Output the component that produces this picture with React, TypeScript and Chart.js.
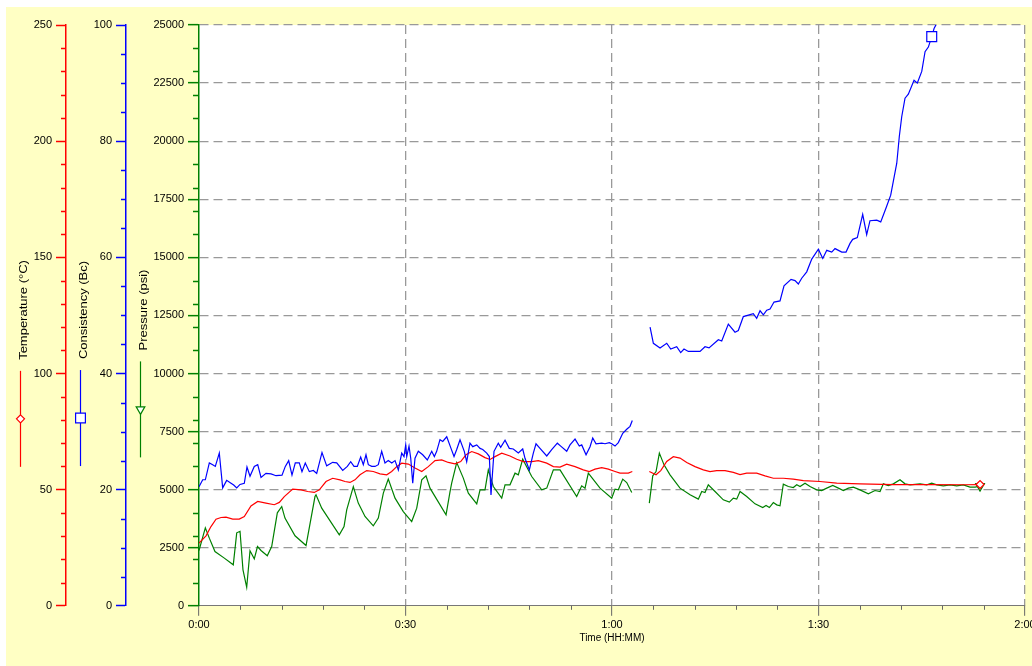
import React, { useEffect, useRef } from 'react';
import { Chart, registerables } from 'chart.js';

Chart.register(...registerables);

// ---------------- DATA ----------------
// Time in minutes (null value = gap in the record)
const temperatureTime = [
  0, 1.02, 1.74, 2.47, 3.2, 3.92, 4.9, 5.85, 6.58, 7.55, 8.53, 9.73, 10.94, 11.67, 12.39, 13.61, 14.82, 15.79,
  16.75, 17.48, 18.45, 19.42, 20.49, 21.21, 21.94, 22.66, 23.39, 24.36, 25.32, 26.3, 27.27, 27.99, 28.72, 29.45,
  30.41, 31.38, 32.36, 33.31, 34.29, 35.26, 36.22, 37.19, 38.02, 38.79, 39.62, 40.58, 41.55, 42.28, 43.0, 43.98,
  45.18, 46.16, 47.12, 48.34, 49.3, 50.52, 51.48, 52.45, 53.42, 54.63, 55.83, 56.7, 57.53, 58.51, 59.47, 60.44,
  61.17, 62.37, 62.95, 64.2,
  65.42, 66.4, 67.08, 67.95, 68.91, 69.88, 70.86, 72.06, 73.27, 74.24, 75.21, 76.42, 77.63, 78.6, 79.57, 81.02,
  82.23, 83.44, 84.89, 86.34, 87.8, 90.22, 92.65, 96.03, 100.87, 105.72, 111.04, 113.47,
];
const temperatureC = [
  27.0, 30.1, 34.1, 37.3, 38.0, 38.2, 37.3, 37.3, 38.4, 43.0, 44.9, 44.2, 43.5, 44.5, 47.0, 50.2, 49.9, 49.2,
  48.8, 49.9, 53.5, 54.9, 54.2, 53.5, 53.1, 54.2, 56.4, 58.2, 57.8, 56.8, 56.4, 57.8, 59.9, 61.4,
  61.0, 59.3, 57.8, 59.9, 62.5, 62.8, 61.7, 61.1, 62.1, 65.0, 66.4, 65.4, 63.8, 63.0, 64.2, 65.7,
  64.5, 63.1, 62.1, 62.1, 62.5, 61.4, 59.9, 59.7, 61.0, 59.9, 58.5, 57.8, 58.8, 59.5, 58.8, 57.8,
  57.1, 57.1, 57.8, null,
  57.8, 56.4, 58.2, 62.1, 64.2, 63.6, 61.7, 59.9, 58.5, 57.8, 58.2, 58.2, 57.4, 56.5, 57.1, 57.1,
  55.9, 54.9, 54.9, 54.5, 53.9, 53.5, 52.8, 52.5, 52.2, 52.2, 52.1, 52.2,
];

const consistencyTime = [
  0, 0.54, 0.92, 1.5, 1.99, 2.37, 2.95, 3.44, 4.02, 4.65, 5.04, 5.48, 5.96, 6.58, 6.97, 7.41, 8.03, 8.53, 9.01,
  9.73, 10.46, 11.19, 12.06, 12.54, 13.03, 13.51, 13.99, 14.57, 14.96, 15.44, 16.03, 16.61, 17.1, 17.87, 18.55,
  19.42, 20.01, 20.88, 21.55, 22.04, 22.52, 23.0, 23.49, 23.87, 24.26, 24.6, 25.09, 25.57, 26.05, 26.54, 27.02,
  27.5, 28.0, 28.48, 28.96, 29.45, 29.78, 30.03, 30.18, 30.51, 30.76, 31.05, 31.38, 31.86, 32.5, 33.17, 33.81,
  34.19, 34.53, 35.01, 35.41, 35.99, 36.61, 37.05, 37.44, 37.92, 38.54, 38.89, 39.37, 39.77, 40.35, 40.83, 41.22,
  41.8, 42.18, 42.42, 42.86, 43.48, 43.83, 44.46, 45.08, 45.66, 46.39, 47.03, 47.36, 47.99, 48.57, 48.96, 49.54,
  50.52, 51.24, 52.06, 52.55, 53.42, 53.9, 54.63, 55.25, 55.6, 56.23, 56.81, 57.2, 57.68, 58.51, 58.99, 59.61,
  59.96, 60.44, 60.92, 61.56, 62.14, 62.62, 62.95, 64.2,
  65.53, 66.01, 66.98, 67.95, 68.53, 69.4, 69.98, 70.46, 71.09, 72.79, 73.51, 74.1, 75.45, 75.94, 76.9, 77.87,
  78.35, 79.08, 80.53, 81.02, 81.51, 81.99, 82.48, 82.96, 83.54, 84.41, 84.99, 86.01, 86.59, 87.07, 87.56, 88.29,
  89.02, 89.98, 90.62, 91.2, 91.92, 92.4, 93.38, 94.0, 94.58, 94.97, 95.64, 96.42, 97.0, 97.48, 98.46, 99.04,
  99.81, 100.49, 101.37, 101.74, 102.09, 102.57, 103.05, 103.88, 104.36, 105.0, 105.48, 105.96, 106.45, 106.79,
  107.18, 107.6,
];
const consistencyBc = [
  20.5, 21.7, 21.7, 24.6, 24.3, 24.0, 26.3, 20.3, 21.6, 21.1, 20.8, 20.3, 20.9, 21.1, 23.9, 22.3, 24.0, 24.3, 22.1,
  22.8, 22.7, 22.4, 22.5, 24.0, 25.0, 22.5, 24.6, 24.6, 23.1, 24.6, 23.1, 23.3, 22.8, 26.4, 24.1,
  24.7, 24.6, 23.3, 24.0, 24.8, 24.0, 24.0, 25.6, 24.3, 26.0, 24.3, 24.0, 24.0, 24.3, 26.6, 24.6,
  25.0, 24.6, 25.0, 23.4, 26.3, 25.7, 27.7, 25.7, 27.5, 25.4, 21.1, 25.4, 26.6, 26.0, 25.1, 26.6,
  25.7, 26.6, 28.6, 28.3, 29.1, 27.1, 25.7, 26.9, 28.6, 26.6, 24.8, 28.0, 27.4, 27.7, 27.1, 26.9,
  26.3, 25.7, 19.1, 26.6, 28.0, 27.3, 28.5, 27.1, 27.0, 26.3, 27.0, 25.4, 23.4, 26.3, 27.9, 27.1,
  25.8, 26.9, 28.0, 27.5, 26.6, 27.7, 28.7, 27.5, 27.7, 26.0, 27.4, 28.9, 27.9, 28.0, 27.9, 28.1,
  27.9, 27.5, 28.1, 29.7, 30.4, 30.9, 31.9, null,
  48.0, 45.2, 44.4, 45.2, 44.2, 44.6, 43.6, 44.2, 43.8, 43.8, 44.6, 44.4, 45.8, 45.6, 48.5, 47.1,
  47.4, 49.8, 50.3, 49.5, 50.8, 50.1, 50.9, 51.1, 52.3, 52.5, 55.1, 56.2, 56.0, 55.4, 56.4, 57.5,
  59.7, 61.4, 59.8, 61.2, 60.9, 61.5, 60.9, 60.9, 62.4, 63.1, 63.4, 67.4, 63.9, 66.3, 66.4, 66.1,
  68.5, 70.7, 76.2, 80.8, 84.2, 87.4, 88.1, 90.5, 90.0, 92.0, 95.4, 96.2, 98.0, 99.4,
  100.3, 101.5,
];

const pressureTime = [
  0, 0.92, 1.5, 2.32, 3.68, 4.98, 5.48, 5.96, 6.39, 6.93, 7.41, 8.03, 8.5, 9.01, 9.92, 10.56, 11.38, 12.02,
  12.49, 13.95, 15.55, 16.85, 17.0, 17.83, 20.38, 21.07, 21.46, 22.42, 23.14, 24.12, 25.32, 26.05, 26.78, 27.5,
  28.48, 29.68, 30.9, 31.63, 32.36, 32.98, 33.56, 35.89, 36.47, 36.71, 37.44, 38.4, 39.13, 40.35, 40.83, 41.55,
  42.03, 42.76, 43.98, 44.46, 45.18, 45.91, 46.39, 47.03, 48.34, 49.79, 50.52, 51.48, 52.45, 54.87, 55.6, 56.08,
  56.56, 58.26, 59.96, 60.44, 60.92, 61.56, 62.14, 62.87, 64.2,
  65.42, 65.92, 66.4, 66.88, 67.56, 68.43, 69.88, 71.34, 72.54, 73.04, 73.51, 73.99, 74.97, 76.17, 77.05, 77.63,
  78.12, 78.6, 79.57, 80.78, 81.9, 82.38, 82.86, 83.44, 83.93, 84.41, 84.89, 85.62, 86.34, 86.84, 87.32, 88.04,
  88.77, 89.74, 90.47, 91.2, 92.07, 92.89, 93.61, 94.34, 95.06, 96.03, 97.24, 98.21, 98.94, 99.42, 100.14, 100.87,
  101.84, 102.57, 103.3, 104.75, 105.72, 106.45, 107.18, 108.14, 109.11, 110.08, 111.04, 112.01, 112.74, 113.47,
];
const pressurePsi = [
  2380, 3356, 2913, 2337, 2052, 1764, 3141, 3206, 1549, 796, 2367, 2022, 2552, 2380, 2152, 2552, 4002, 4273,
  3774, 3012, 2595, 4703, 4776, 4204, 3055, 3412, 4131, 5134, 4419, 3843, 3442, 3774, 4850, 5452,
  4634, 4058, 3627, 4204, 5422, 5594, 5065, 3916, 4918, 5280, 6166, 5495, 4850, 4389, 4991, 4991,
  5852, 5134, 4634, 5207, 5207, 5710, 5637, 6313, 5564, 4991, 5065, 5852, 5852, 4703, 5164, 5065,
  5710, 5065, 4634, 5022, 4991, 5452, 5306, 4875, null,
  4419, 5594, 5779, 6571, 6067, 5637, 5065, 4776, 4591, 4918, 4875, 5207, 4918, 4561, 4462, 4634,
  4591, 4918, 4703, 4389, 4230, 4316, 4230, 4445, 4346, 4303, 5237, 5134, 5091, 5207, 5134, 5280,
  5134, 4991, 4962, 5065, 5177, 5065, 4962, 5065, 5108, 4991, 4819, 4962, 4918, 5250, 5177, 5250,
  5422, 5250, 5207, 5250, 5207, 5280, 5207, 5164, 5207, 5164, 5207, 5108, 5108, 5150,
];

// axis ranges / ticks
const timeRange = [0, 120];
const timeMajorStep = 30;
const timeMinorStep = 6;
const temperatureRange = [0, 250];
const consistencyRange = [0, 100];
const pressureRange = [0, 25000];

const titles = {
  x: 'Time (HH:MM)',
  temperature: 'Temperature (°C)',
  consistency: 'Consistency (Bc)',
  pressure: 'Pressure (psi)',
};

// ---------------- STYLE ----------------
const FONT = '"Liberation Sans", Arial, Helvetica, sans-serif';
const YELLOW = '#FFFFC4';
const GRID = '#999999';
const RED = '#FF0000';
const BLUE = '#0000FF';
const GREEN = '#008000';
const DASH = [9, 5];

const consMarkerIndex = consistencyTime.indexOf(106.45);

function fmtTime(v: number) {
  const h = Math.floor(v / 60);
  const m = Math.round(v - h * 60);
  return `${h}:${String(m).padStart(2, '0')}`;
}

function drawMarker(ctx: CanvasRenderingContext2D, kind: string, x: number, y: number, color: string) {
  ctx.save();
  ctx.fillStyle = '#ffffff';
  ctx.strokeStyle = color;
  ctx.lineWidth = 1.2;
  ctx.beginPath();
  if (kind === 'diamond') {
    const r = 4;
    ctx.moveTo(x, y - r);
    ctx.lineTo(x + r, y);
    ctx.lineTo(x, y + r);
    ctx.lineTo(x - r, y);
    ctx.closePath();
  } else if (kind === 'square') {
    const h = 4.9;
    ctx.rect(x - h, y - h, 2 * h, 2 * h);
  } else {
    const r = 5;
    ctx.moveTo(x, y + r);
    ctx.lineTo(x + r * 0.866, y - r / 2);
    ctx.lineTo(x - r * 0.866, y - r / 2);
    ctx.closePath();
  }
  ctx.fill();
  ctx.stroke();
  ctx.restore();
}

const legendGroups = [
  { id: 'yTemp', title: titles.temperature, color: RED, marker: 'diamond' },
  { id: 'yCons', title: titles.consistency, color: BLUE, marker: 'square' },
  { id: 'yPres', title: titles.pressure, color: GREEN, marker: 'triangle' },
];

const minorTicks = [
  { id: 'yTemp', step: 10, major: 50, len: 5, color: RED, width: 1.5 },
  { id: 'yCons', step: 5, major: 20, len: 5, color: BLUE, width: 1.5 },
  { id: 'yPres', step: 1000, major: 2500, len: 6, color: GREEN, width: 1.5 },
  { id: 'x', step: timeMinorStep, major: timeMajorStep, len: 4, color: '#666666', width: 1 },
];

const TITLE_STRETCH = 1.18;

const decorPlugin = {
  id: 'decor',
  beforeDraw(chart: any) {
    const { ctx, chartArea, width, height } = chart;
    ctx.save();
    ctx.fillStyle = YELLOW;
    ctx.fillRect(0, 0, width, height);
    ctx.fillStyle = '#ffffff';
    ctx.fillRect(chartArea.left, chartArea.top, chartArea.right - chartArea.left, chartArea.bottom - chartArea.top);
    ctx.restore();
  },
  afterDraw(chart: any) {
    const ctx: CanvasRenderingContext2D = chart.ctx;
    ctx.save();
    // minor ticks
    for (const m of minorTicks) {
      const s = chart.scales[m.id];
      ctx.strokeStyle = m.color;
      ctx.lineWidth = m.width;
      const n = Math.round((s.max - s.min) / m.step);
      for (let i = 0; i <= n; i++) {
        const v = s.min + i * m.step;
        if (v % m.major === 0) continue;
        ctx.beginPath();
        if (m.id === 'x') {
          const px = Math.round(s.getPixelForValue(v)) + 0.5;
          ctx.moveTo(px, s.top);
          ctx.lineTo(px, s.top + m.len);
        } else {
          const py = Math.round(s.getPixelForValue(v)) + 0.5;
          ctx.moveTo(s.right - m.len, py);
          ctx.lineTo(s.right, py);
        }
        ctx.stroke();
      }
    }
    // axis titles with legend samples
    const centerY = 356.5;
    const gap = 11;
    const lineLen = 96;
    ctx.font = `11px ${FONT}`;
    for (const g of legendGroups) {
      const s = chart.scales[g.id];
      const x = Math.round(s.left + 14) + 0.5;
      const w = ctx.measureText(g.title).width * TITLE_STRETCH;
      const total = w + gap + lineLen;
      const top = centerY - total / 2;
      ctx.save();
      ctx.translate(x + 3, top + w);
      ctx.rotate(-Math.PI / 2);
      ctx.scale(TITLE_STRETCH, 1);
      ctx.textAlign = 'left';
      ctx.textBaseline = 'middle';
      ctx.fillStyle = '#000000';
      ctx.fillText(g.title, 0, 0);
      ctx.restore();
      const l0 = top + w + gap;
      ctx.strokeStyle = g.color;
      ctx.lineWidth = 1.2;
      ctx.beginPath();
      ctx.moveTo(x, l0);
      ctx.lineTo(x, l0 + lineLen);
      ctx.stroke();
      drawMarker(ctx, g.marker, x, l0 + lineLen / 2, g.color);
    }
    ctx.restore();
  },
};

export default function App() {
  const ref = useRef<HTMLCanvasElement | null>(null);

  useEffect(() => {
    if (!ref.current) return;
    Chart.defaults.font.family = FONT;
    Chart.defaults.font.size = 11;
    Chart.defaults.color = '#000000';

    const lastTemp = temperatureTime.length - 1;
    const lastPres = pressureTime.length - 1;

    const chart = new Chart(ref.current, {
      type: 'line',
      data: {
        datasets: [
          {
            label: 'Consistency',
            data: consistencyTime.map((t, i) => ({ x: t, y: consistencyBc[i] })),
            yAxisID: 'yCons',
            xAxisID: 'x',
            borderColor: BLUE,
            borderWidth: 1.2,
            tension: 0,
            spanGaps: false,
            pointStyle: 'rect',
            pointRadius: (c: any) => (c.dataIndex === consMarkerIndex ? 7 : 0),
            pointBackgroundColor: '#ffffff',
            pointBorderColor: BLUE,
            pointBorderWidth: 1.2,
          },
          {
            label: 'Temperature',
            data: temperatureTime.map((t, i) => ({ x: t, y: temperatureC[i] })),
            yAxisID: 'yTemp',
            xAxisID: 'x',
            borderColor: RED,
            borderWidth: 1.2,
            tension: 0,
            spanGaps: false,
            pointStyle: 'rectRot',
            pointRadius: (c: any) => (c.dataIndex === lastTemp ? 4 : 0),
            pointBackgroundColor: '#ffffff',
            pointBorderColor: RED,
            pointBorderWidth: 1.2,
          },
          {
            label: 'Pressure',
            data: pressureTime.map((t, i) => ({ x: t, y: pressurePsi[i] })),
            yAxisID: 'yPres',
            xAxisID: 'x',
            borderColor: GREEN,
            borderWidth: 1.2,
            tension: 0,
            spanGaps: false,
            pointStyle: 'triangle',
            pointRotation: 180,
            pointRadius: (c: any) => (c.dataIndex === lastPres ? 5 : 0),
            pointBackgroundColor: '#ffffff',
            pointBorderColor: GREEN,
            pointBorderWidth: 1.2,
          },
        ] as any,
      },
      options: {
        animation: false,
        responsive: true,
        maintainAspectRatio: false,
        events: [],
        layout: { padding: { left: 0, right: 7, top: 18, bottom: 22 } },
        plugins: { legend: { display: false }, tooltip: { enabled: false } },
        scales: {
          x: {
            type: 'linear',
            position: 'bottom',
            min: timeRange[0],
            max: timeRange[1],
            afterFit: (s: any) => {
              s.paddingLeft = 0;
              s.paddingRight = 0;
            },
            ticks: {
              stepSize: timeMajorStep,
              autoSkip: false,
              maxRotation: 0,
              padding: 3,
              color: '#000000',
              font: { size: 11 },
              callback: (v: any) => fmtTime(Number(v)),
            },
            grid: {
              color: (c: any) => (c.tick && c.tick.value === 0 ? 'rgba(0,0,0,0)' : GRID),
              lineWidth: 1.3,
              tickColor: '#666666',
              tickLength: 10,
              tickWidth: 1,
            },
            border: { color: '#777777', width: 1, dash: DASH },
            title: {
              display: true,
              text: titles.x,
              color: '#000000',
              font: { size: 10 },
              padding: { top: -3, bottom: 0 },
            },
          },
          yTemp: {
            type: 'linear',
            position: 'left',
            weight: 3,
            min: temperatureRange[0],
            max: temperatureRange[1],
            afterFit: (s: any) => {
              s.width = 60;
            },
            ticks: { stepSize: 50, padding: 4, color: '#000000', callback: (v: any) => String(v) },
            grid: { drawOnChartArea: false, tickLength: 10, tickColor: RED, tickWidth: 1.5 },
            border: { color: RED, width: 1.5 },
          },
          yCons: {
            type: 'linear',
            position: 'left',
            weight: 2,
            min: consistencyRange[0],
            max: consistencyRange[1],
            afterFit: (s: any) => {
              s.width = 60;
            },
            ticks: { stepSize: 20, padding: 4, color: '#000000', callback: (v: any) => String(v) },
            grid: { drawOnChartArea: false, tickLength: 10, tickColor: BLUE, tickWidth: 1.5 },
            border: { color: BLUE, width: 1.5 },
          },
          yPres: {
            type: 'linear',
            position: 'left',
            weight: 1,
            min: pressureRange[0],
            max: pressureRange[1],
            afterFit: (s: any) => {
              s.width = 73;
            },
            ticks: { stepSize: 2500, padding: 4, color: '#000000', callback: (v: any) => String(v) },
            grid: {
              drawOnChartArea: true,
              color: (c: any) => (c.tick && c.tick.value === 0 ? 'rgba(0,0,0,0)' : GRID),
              lineWidth: 1.3,
              tickLength: 11,
              tickColor: GREEN,
              tickWidth: 1.5,
            },
            border: { color: GREEN, width: 1.5, dash: DASH },
          },
        } as any,
      },
      plugins: [decorPlugin],
    });
    return () => chart.destroy();
  }, []);

  return (
    <div style={{ position: 'absolute', left: 6, top: 7, width: 1026, height: 659, background: YELLOW }}>
      <canvas ref={ref} />
    </div>
  );
}
